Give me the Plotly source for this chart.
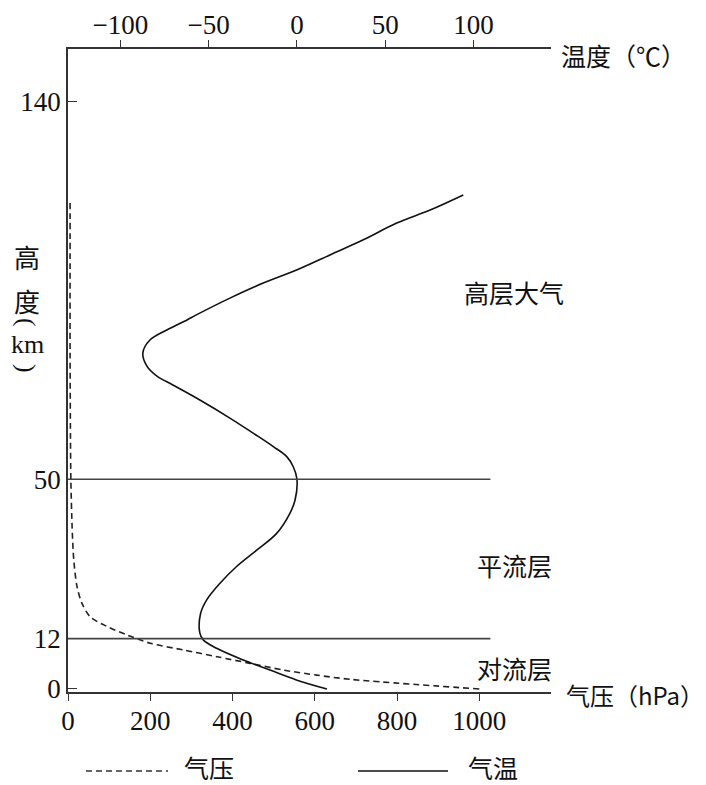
import plotly.graph_objects as go

# ---- data ----
temp_height_km = [0, 2.1, 4.5, 6.9, 9.7, 11.7, 13.3, 18, 21.2, 25.2, 29.2, 33.1, 37.1, 41.9, 45,
                  50, 53, 55.4, 57.8, 61, 64.6, 68.9, 72.5, 74.6, 77.0, 80.1, 83.2, 85.6, 88.0,
                  89.2, 93.2, 96.8, 99.9, 103.5, 107.1, 111.1, 114.2, 117.8]
temp_c = [17, 0, -15.3, -30.4, -45.5, -53.1, -55, -54.6, -51.2, -43.6, -34.2, -22.8, -11.5, -4, -1.1,
          0, -2.1, -5.8, -13.4, -24.8, -38, -55, -70.3, -79.3, -85, -87.3, -83.3, -73.7, -62.3,
          -57, -38, -19.1, -0.2, 18.7, 37.6, 56.5, 75.4, 94.2]

pres_height_km = [0, 2.3, 3.3, 4.5, 6.1, 7.7, 9.3, 10.9, 12.9, 14.9, 17.2, 20.4, 24.4, 30.8,
                  38.7, 49.8, 60, 80, 100, 116.6]
pres_hpa = [1000, 686, 605, 524, 443, 362, 281, 200, 143, 95, 54, 34, 22, 14,
            10, 7, 6, 5, 5, 5]

layer_bounds_km = [12, 50]
layer_names = ["对流层", "平流层", "高层大气"]
layer_label_km = [5.0, 29.6, 94.7]

y_ticks = [0, 12, 50, 140]
p_ticks = [0, 200, 400, 600, 800, 1000]
t_ticks = [-100, -50, 0, 50, 100]

LAT = "Liberation Serif, Noto Sans CJK SC"
CJK = "Noto Sans CJK SC, Liberation Serif"
AX = "#333333"

# page offset of the body margin (8px) is compensated in the layout margins
PL, PR, PT, PB = 68, 551, 49, 692      # plot area in page pixels
PW, PH = PR - PL, PB - PT


def px(xp):
    return (xp - PL) / PW


def py(yp):
    return (PB - yp) / PH


fig = go.Figure()
fig.add_trace(go.Scatter(x=pres_hpa, y=pres_height_km, mode="lines", name="气压",
                         line=dict(color="#222", width=1.6, dash="6px,4px", shape="spline",
                                   smoothing=0.8),
                         xaxis="x", yaxis="y", showlegend=False))
fig.add_trace(go.Scatter(x=temp_c, y=temp_height_km, mode="lines", name="气温",
                         line=dict(color="#111", width=1.6, shape="spline", smoothing=1.0),
                         xaxis="x2", yaxis="y", showlegend=False))

for b in layer_bounds_km:
    fig.add_shape(type="line", xref="x", yref="y", x0=0, x1=1027, y0=b, y1=b,
                  line=dict(color="#444", width=1.6))

for name, km in zip(layer_names, layer_label_km):
    fig.add_annotation(x=1085, y=km, xref="x", yref="y", text=name, showarrow=False,
                       xanchor="center", yanchor="middle",
                       font=dict(family=CJK, size=25, color="#111"))

# axis titles
fig.add_annotation(x=px(559), y=py(55), xref="paper", yref="paper", xanchor="left",
                   yanchor="middle", text="温度（℃）", showarrow=False,
                   font=dict(family=CJK, size=25, color="#111"))
fig.add_annotation(x=px(564), y=py(694), xref="paper", yref="paper", xanchor="left",
                   yanchor="middle", text="气压（hPa）", showarrow=False,
                   font=dict(family=CJK, size=24, color="#111"))

# vertical y title
for t, yp, ang in [("高", 257, 0), ("度", 300, 0), ("(", 322, 90), ("km", 345, 0), (")", 368, 90)]:
    fig.add_annotation(x=px(27), y=py(yp), xref="paper", yref="paper",
                       xanchor="center", yanchor="middle", textangle=ang,
                       text=t, showarrow=False,
                       font=dict(family=CJK if t in ("高", "度") else LAT,
                                 size=26, color="#111"))

# legend (drawn)
ly = py(771)
fig.add_shape(type="line", xref="paper", yref="paper", x0=px(86), x1=px(168),
              y0=ly, y1=ly, line=dict(color="#333", width=1.6, dash="6px,4px"))
fig.add_shape(type="line", xref="paper", yref="paper", x0=px(358), x1=px(448),
              y0=ly, y1=ly, line=dict(color="#111", width=1.6))
fig.add_annotation(x=px(182), y=py(767), xref="paper", yref="paper", xanchor="left",
                   yanchor="middle", text="气压", showarrow=False,
                   font=dict(family=CJK, size=25, color="#111"))
fig.add_annotation(x=px(466), y=py(767), xref="paper", yref="paper", xanchor="left",
                   yanchor="middle", text="气温", showarrow=False,
                   font=dict(family=CJK, size=25, color="#111"))

fig.update_layout(
    width=698, height=777,
    margin=dict(l=PL - 8, r=698 + 8 - PR, t=PT - 8, b=777 + 8 - PB, autoexpand=False),
    paper_bgcolor="white", plot_bgcolor="white",
    xaxis=dict(range=[0, 1174.3], tickvals=p_ticks, ticks="outside", ticklen=7,
               tickcolor=AX, tickwidth=1.4, showline=True, linecolor=AX, linewidth=1.6,
               showgrid=False, zeroline=False, automargin=False, ticklabelstandoff=-3,
               tickfont=dict(family=LAT, size=27, color="#111")),
    xaxis2=dict(range=[-129.7, 143.9], tickvals=t_ticks, overlaying="x", side="top",
                ticks="outside", ticklen=7, tickcolor=AX, tickwidth=1.4, automargin=False,
                ticklabelstandoff=-5,
                showline=True, linecolor=AX, linewidth=1.6, showgrid=False, zeroline=False,
                tickfont=dict(family=LAT, size=27, color="#111")),
    yaxis=dict(range=[-0.72, 152.6], tickvals=y_ticks, ticks="inside", ticklen=9,
               tickcolor=AX, tickwidth=1.4, showline=True, linecolor=AX, linewidth=1.6,
               showgrid=False, zeroline=False, automargin=False,
               tickfont=dict(family=LAT, size=27, color="#111")),
)

fig.write_html("out.html")
